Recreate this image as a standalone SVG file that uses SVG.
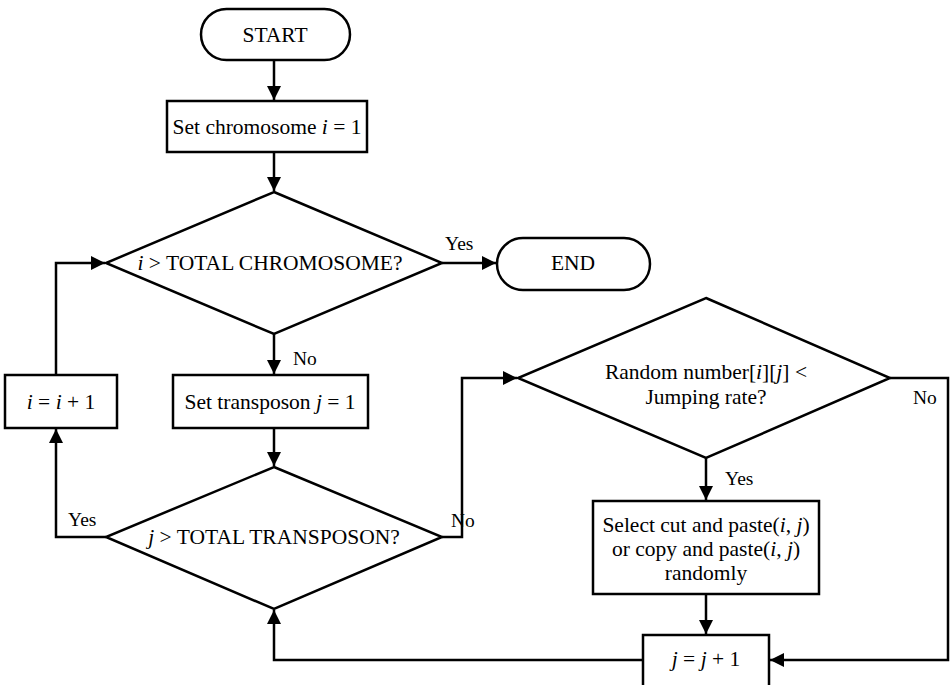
<svg xmlns="http://www.w3.org/2000/svg" width="950" height="685" viewBox="0 0 950 685">
  <style>
    .shape { fill: #fff; stroke: #000; stroke-width: 2.5; }
    .line { fill: none; stroke: #000; stroke-width: 2.5; }
    text { font-family: "Liberation Serif", "Times New Roman", serif; font-size: 21.5px; fill: #000; }
    .lbl { font-size: 19.5px; }
    .c { text-anchor: middle; }
    .it { font-style: italic; }
  </style>
  <defs>
    <marker id="arrow" viewBox="0 0 14 14" refX="14" refY="7" markerWidth="14" markerHeight="14" markerUnits="userSpaceOnUse" orient="auto">
      <path d="M0,0 L14,7 L0,14 Z" fill="#000"/>
    </marker>
  </defs>

  <g id="connectors">
    <line class="line" x1="274" y1="61" x2="274" y2="100" marker-end="url(#arrow)"/>
    <line class="line" x1="274" y1="152" x2="274" y2="191" marker-end="url(#arrow)"/>
    <line class="line" x1="442" y1="263" x2="496" y2="263" marker-end="url(#arrow)"/>
    <line class="line" x1="274" y1="334" x2="274" y2="374" marker-end="url(#arrow)"/>
    <line class="line" x1="274" y1="428" x2="274" y2="466" marker-end="url(#arrow)"/>
    <polyline class="line" points="56,375 56,263 105,263" marker-end="url(#arrow)"/>
    <polyline class="line" points="106,537 56,537 56,429" marker-end="url(#arrow)"/>
    <polyline class="line" points="442,537 462,537 462,378 517,378" marker-end="url(#arrow)"/>
    <line class="line" x1="706" y1="458" x2="706" y2="500" marker-end="url(#arrow)"/>
    <line class="line" x1="706" y1="594" x2="706" y2="634" marker-end="url(#arrow)"/>
    <polyline class="line" points="890,378 948,378 948,660 770,660" marker-end="url(#arrow)"/>
    <polyline class="line" points="643,660 274,660 274,610" marker-end="url(#arrow)"/>
    <text class="lbl" x="445" y="250">Yes</text>
    <text class="lbl" x="293" y="365">No</text>
    <text class="lbl" x="68" y="526">Yes</text>
    <text class="lbl" x="451" y="527">No</text>
    <text class="lbl" x="725" y="485">Yes</text>
    <text class="lbl" x="913" y="404">No</text>
  </g>

  <g id="start">
    <rect class="shape" x="201" y="9" width="149" height="51" rx="25.5"/>
    <text class="c" x="275" y="42">START</text>
  </g>

  <g id="set-chromosome">
    <rect class="shape" x="167" y="101" width="200" height="51"/>
    <text class="c" x="267" y="134">Set chromosome <tspan class="it">i</tspan> = 1</text>
  </g>

  <g id="check-chromosome">
    <polygon class="shape" points="274,192 442,263 274,334 106,263"/>
    <text class="c" x="270" y="270"><tspan class="it">i</tspan> &gt; TOTAL CHROMOSOME?</text>
  </g>

  <g id="end">
    <rect class="shape" x="497" y="238" width="153" height="52" rx="26"/>
    <text class="c" x="573" y="270">END</text>
  </g>

  <g id="increment-i">
    <rect class="shape" x="5" y="375" width="112" height="53"/>
    <text class="c" x="61" y="409"><tspan class="it">i</tspan> = <tspan class="it">i</tspan> + 1</text>
  </g>

  <g id="set-transposon">
    <rect class="shape" x="173" y="375" width="195" height="53"/>
    <text class="c" x="270" y="409">Set transposon <tspan class="it">j</tspan> = 1</text>
  </g>

  <g id="check-transposon">
    <polygon class="shape" points="274,467 442,537 274,609 106,537"/>
    <text class="c" x="274" y="544"><tspan class="it">j</tspan> &gt; TOTAL TRANSPOSON?</text>
  </g>

  <g id="check-jumping">
    <polygon class="shape" points="706,298 890,378 706,458 518,378"/>
    <text class="c" x="706" y="379">Random number[<tspan class="it">i</tspan>][<tspan class="it">j</tspan>] &lt;</text>
    <text class="c" x="706" y="404">Jumping rate?</text>
  </g>

  <g id="select-operation">
    <rect class="shape" x="593" y="501" width="226" height="93"/>
    <text class="c" x="706" y="532">Select cut and paste(<tspan class="it">i</tspan>, <tspan class="it">j</tspan>)</text>
    <text class="c" x="706" y="556">or copy and paste(<tspan class="it">i</tspan>, <tspan class="it">j</tspan>)</text>
    <text class="c" x="706" y="580">randomly</text>
  </g>

  <g id="increment-j">
    <rect class="shape" x="643" y="635" width="126" height="55"/>
    <text class="c" x="706" y="666"><tspan class="it">j</tspan> = <tspan class="it">j</tspan> + 1</text>
  </g>
</svg>
